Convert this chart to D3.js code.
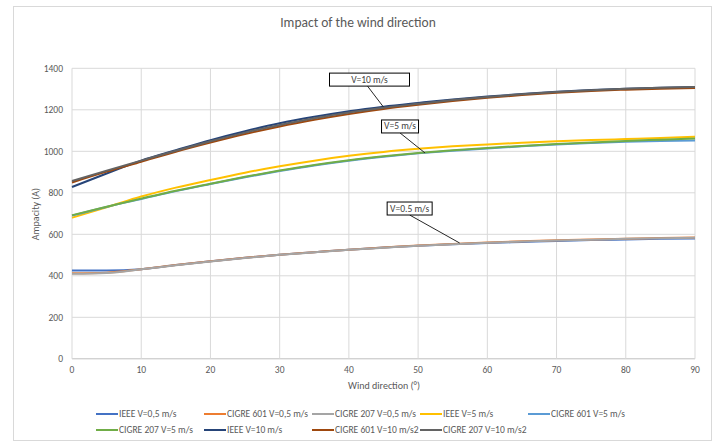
<!DOCTYPE html>
<html><head><meta charset="utf-8">
<script src="https://cdn.jsdelivr.net/npm/d3@7"></script>
<style>
html,body{margin:0;padding:0;background:#fff;}
text{font-family:Carlito,"Liberation Sans Narrow","Liberation Sans",sans-serif;fill:#595959;}
</style></head>
<body><svg id="c" width="717" height="445"></svg>
<script>
const angles = [0,5,10,15,20,25,30,35,40,45,50,55,60,65,70,75,80,85,90];
const ieee05   = [425,425,432,452,470,487,502,514,526,536,545,552,558,563,568,572,575,578,580];
const cigre601_05 = [412,415,432,452,470,487,502,514,526,536,546,553,560,566,571,575,579,582,584];
const cigre207_05 = [410,414,431,451,469,486,501,513,525,535,545,552,559,565,570,574,578,581,583];
const ieee5    = [680,730,782,825,862,897,928,955,978,997,1012,1024,1033,1041,1048,1054,1059,1064,1070];
const cigre601_5 = [690,732,770,808,842,875,905,932,955,974,990,1003,1014,1024,1033,1040,1046,1050,1052];
const cigre207_5 = [692,733,772,810,844,877,907,934,957,976,992,1005,1016,1026,1035,1043,1050,1056,1062];
const ieee10   = [828,893,955,1005,1054,1097,1135,1166,1193,1215,1233,1250,1264,1276,1287,1295,1301,1306,1310];
const cigre601_10 = [850,902,950,998,1042,1083,1120,1152,1180,1204,1224,1242,1258,1271,1282,1291,1297,1302,1305];
const cigre207_10 = [857,907,955,1003,1048,1090,1127,1159,1187,1210,1229,1247,1262,1275,1286,1294,1301,1306,1310];
const seriesNames = ["IEEE V=0,5 m/s","CIGRE 601 V=0,5 m/s","CIGRE 207 V=0,5 m/s","IEEE V=5 m/s","CIGRE 601 V=5 m/s","CIGRE 207 V=5 m/s","IEEE V=10 m/s","CIGRE 601 V=10 m/s2","CIGRE 207 V=10 m/s2"];
const seriesValues = [ieee05,cigre601_05,cigre207_05,ieee5,cigre601_5,cigre207_5,ieee10,cigre601_10,cigre207_10];
const colors = ["#4472C4","#ED7D31","#A5A5A5","#FFC000","#5B9BD5","#70AD47","#264478","#9E480E","#636363"];
const xTicks = [0,10,20,30,40,50,60,70,80,90];
const yTicks = [0,200,400,600,800,1000,1200,1400];
const annotations = [
  {label:"V=10 m/s", x:45, y:1213, dx:-16, dy:-21, w:80},
  {label:"V=5 m/s", x:51, y:992, dx:-25, dy:-20, w:37},
  {label:"V=0.5 m/s", x:56, y:558, dx:-50, dy:-28, w:45}
];

const svg = d3.select("#c");
svg.append("rect").attr("x",13.5).attr("y",6.5).attr("width",698).attr("height",434)
  .attr("fill","#fff").attr("stroke","#d9d9d9");

const x = d3.scaleLinear().domain([0,90]).range([72,695]);
const y = d3.scaleLinear().domain([0,1400]).range([358.8,68.3]);

// grid
svg.append("g").selectAll("line").data(yTicks).join("line")
  .attr("x1",x(0)).attr("x2",x(90)).attr("y1",d=>y(d)).attr("y2",d=>y(d))
  .attr("stroke",d=>d===0?"#bfbfbf":"#d9d9d9").attr("stroke-width",1);
svg.append("g").selectAll("line").data(xTicks).join("line")
  .attr("x1",d=>x(d)).attr("x2",d=>x(d)).attr("y1",y(0)).attr("y2",y(1400))
  .attr("stroke","#d9d9d9").attr("stroke-width",1);

// tick labels
svg.append("g").selectAll("text").data(yTicks).join("text")
  .attr("x",63).attr("y",d=>y(d)+3.5).attr("text-anchor","end")
  .attr("font-size","9.5px").text(d=>d);
svg.append("g").selectAll("text").data(xTicks).join("text")
  .attr("x",d=>x(d)).attr("y",373).attr("text-anchor","middle")
  .attr("font-size","9.5px").text(d=>d);

// titles
svg.append("text").attr("x",358).attr("y",27).attr("text-anchor","middle")
  .attr("font-size","13.5px").text("Impact of the wind direction");
svg.append("text").attr("x",384).attr("y",389).attr("text-anchor","middle")
  .attr("font-size","10px").text("Wind direction (°)");
svg.append("text").attr("transform","translate(39,214) rotate(-90)").attr("text-anchor","middle")
  .attr("font-size","10px").text("Ampacity (A)");

// lines
const line = d3.line().x((d,i)=>x(angles[i])).y(d=>y(d)).curve(d3.curveMonotoneX);
svg.append("g").selectAll("path").data(seriesValues).join("path")
  .attr("d",d=>line(d)).attr("fill","none")
  .attr("stroke",(d,i)=>colors[i]).attr("stroke-width",2);

// annotations
const ag = svg.append("g").selectAll("g").data(annotations).join("g");
ag.append("line").attr("x1",d=>x(d.x)+d.dx).attr("y1",d=>y(d.y)+d.dy)
  .attr("x2",d=>x(d.x)).attr("y2",d=>y(d.y)).attr("stroke","#262626").attr("stroke-width",1);
ag.append("rect").attr("x",d=>x(d.x)+d.dx-d.w/2+ (d.label==="V=10 m/s"?2:0)).attr("y",d=>y(d.y)+d.dy-13)
  .attr("width",d=>d.w).attr("height",13).attr("fill","#fff").attr("stroke","#000").attr("stroke-width",1);
ag.append("text").attr("x",d=>x(d.x)+d.dx+ (d.label==="V=10 m/s"?2:0)).attr("y",d=>y(d.y)+d.dy-3.5)
  .attr("text-anchor","middle").attr("font-size","9.5px").style("fill","#404040").text(d=>d.label);

// legend
const legX = [96,204,312,420,528];
const legY = [414,430];
const lg = svg.append("g").selectAll("g").data(seriesNames).join("g")
  .attr("transform",(d,i)=>`translate(${legX[i%5]},${legY[Math.floor(i/5)]})`);
lg.append("line").attr("x1",0).attr("x2",22).attr("y1",0).attr("y2",0)
  .attr("stroke",(d,i)=>colors[i]).attr("stroke-width",2);
lg.append("text").attr("x",23).attr("y",3.4).attr("font-size","9.5px").text(d=>d);
</script></body></html>
